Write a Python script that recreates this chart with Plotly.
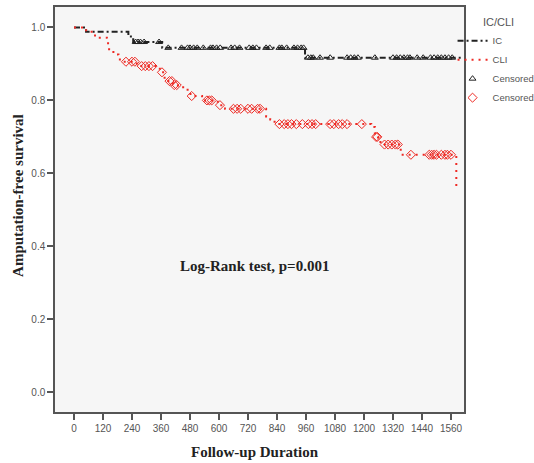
import numpy as np
import plotly.graph_objects as go

# ---- data ----
ic_times = [0, 50, 225, 245, 365, 956, 1605]
ic_surv = [1.0, 0.988, 0.975, 0.960, 0.944, 0.917, 0.917]
ic_censor = [255, 265, 275, 290, 352,
             390, 445, 470, 480, 495, 510, 535, 565, 575, 590, 605, 650, 665, 685,
             725, 740, 755, 795, 810, 850, 860, 880, 910, 925, 940, 950,
             968, 980, 990, 1018, 1060, 1130, 1145, 1160, 1175, 1245, 1320, 1335,
             1350, 1365, 1380, 1390, 1420, 1445, 1475, 1490, 1505, 1520, 1535, 1550, 1565]

cli_times = [0, 50, 87, 136, 141, 163, 184, 198, 260, 355, 375, 410, 430, 466, 482,
             530, 595, 625, 795, 812, 830, 1230, 1245, 1258, 1268, 1352, 1582]
cli_surv = [1.0, 0.988, 0.972, 0.961, 0.940, 0.926, 0.912, 0.906, 0.894, 0.877, 0.853,
            0.842, 0.836, 0.829, 0.812, 0.800, 0.787, 0.777, 0.756, 0.748, 0.735, 0.727,
            0.700, 0.694, 0.679, 0.651, 0.557]
cli_censor = [215, 240, 252, 280, 295, 310, 325, 364, 395, 405, 415, 425, 487, 550, 560,
              570, 604, 660, 675, 690, 720, 735, 760, 770, 850, 870, 885, 900, 920, 945,
              970, 985, 1000, 1060, 1075, 1095, 1110, 1130, 1191, 1250, 1255, 1285, 1300,
              1315, 1330, 1340, 1394, 1470, 1480, 1490, 1500, 1520, 1535, 1545, 1560]

x_ticks = list(range(0, 1561, 120))
y_ticks = [0.0, 0.2, 0.4, 0.6, 0.8, 1.0]


def step_value(times, surv, t):
    idx = np.searchsorted(np.array(times), np.array(t), side="right") - 1
    return np.array(surv)[idx]


BLACK = "#222222"
RED = "#ee2a24"
PAD = "\u00a0\u00a0"  # keeps the legend's clip box wide enough for the full label

fig = go.Figure()
fig.add_trace(go.Scatter(x=ic_times, y=ic_surv, mode="lines", line_shape="hv", name="IC" + PAD,
                         line=dict(color=BLACK, width=2, dash="6px,3px,2px,3px")))
fig.add_trace(go.Scatter(x=cli_times, y=cli_surv, mode="lines", line_shape="hv",
                         name="CLI" + PAD,
                         line=dict(color=RED, width=2, dash="2px,5px")))
fig.add_trace(go.Scatter(x=ic_censor, y=step_value(ic_times, ic_surv, ic_censor), mode="markers",
                         name="Censored" + PAD,
                         marker=dict(symbol="triangle-up-open", size=6, color=BLACK,
                                     line=dict(width=1, color=BLACK))))
fig.add_trace(go.Scatter(x=cli_censor, y=step_value(cli_times, cli_surv, cli_censor),
                         mode="markers", name="Censored" + PAD,
                         marker=dict(symbol="diamond-open", size=7, color=RED,
                                     line=dict(width=1, color=RED))))

axis_common = dict(showgrid=False, zeroline=False, showline=True, mirror=True,
                   linecolor="#555555", linewidth=1.5, ticks="outside", ticklen=6,
                   tickcolor="#555555", tickwidth=1.5, automargin=False,
                   tickfont=dict(family="Liberation Sans", size=10, color="#555555"))

fig.update_layout(
    width=534, height=463,
    margin=dict(l=55, r=70, t=7, b=51, autoexpand=False),
    paper_bgcolor="white", plot_bgcolor="#f6f6f6",
    xaxis=dict(range=[-78.6, 1613.8], tickvals=x_ticks, **axis_common),
    yaxis=dict(range=[-0.054, 1.056], tickvals=y_ticks, tickformat=".1f", **axis_common),
    legend=dict(x=0.972, y=0.988, xanchor="left", yanchor="top",
                font=dict(family="Liberation Sans", size=9.5, color="#555555"),
                title=dict(text="IC/CLI", side="top center",
                           font=dict(family="Liberation Sans", size=11, color="#555555")),
                itemwidth=30, tracegroupgap=0, bgcolor="rgba(0,0,0,0)"),
    annotations=[
        dict(text="<b>Log-Rank test, p=0.001</b>", x=745, y=0.346, xref="x", yref="y",
             xanchor="center", yanchor="middle",
             showarrow=False, font=dict(family="Liberation Serif", size=15, color="#222222")),
        dict(text="<b>Amputation-free survival</b>", x=-0.0905, y=0.536, xref="paper",
             yref="paper", xanchor="center", yanchor="middle",
             textangle=-90, showarrow=False,
             font=dict(family="Liberation Serif", size=15, color="#222222")),
        dict(text="<b>Follow-up Duration</b>", x=0.489, y=-0.099, xref="paper", yref="paper",
             xanchor="center", yanchor="middle",
             showarrow=False, font=dict(family="Liberation Serif", size=15, color="#222222")),
    ],
)

# remove the browser's default 8px page margin so the 534x463 figure fills the window exactly
fig.write_html("out.html", config={"displayModeBar": False},
               post_script="document.body.style.margin='0';document.body.style.overflow='hidden';")
